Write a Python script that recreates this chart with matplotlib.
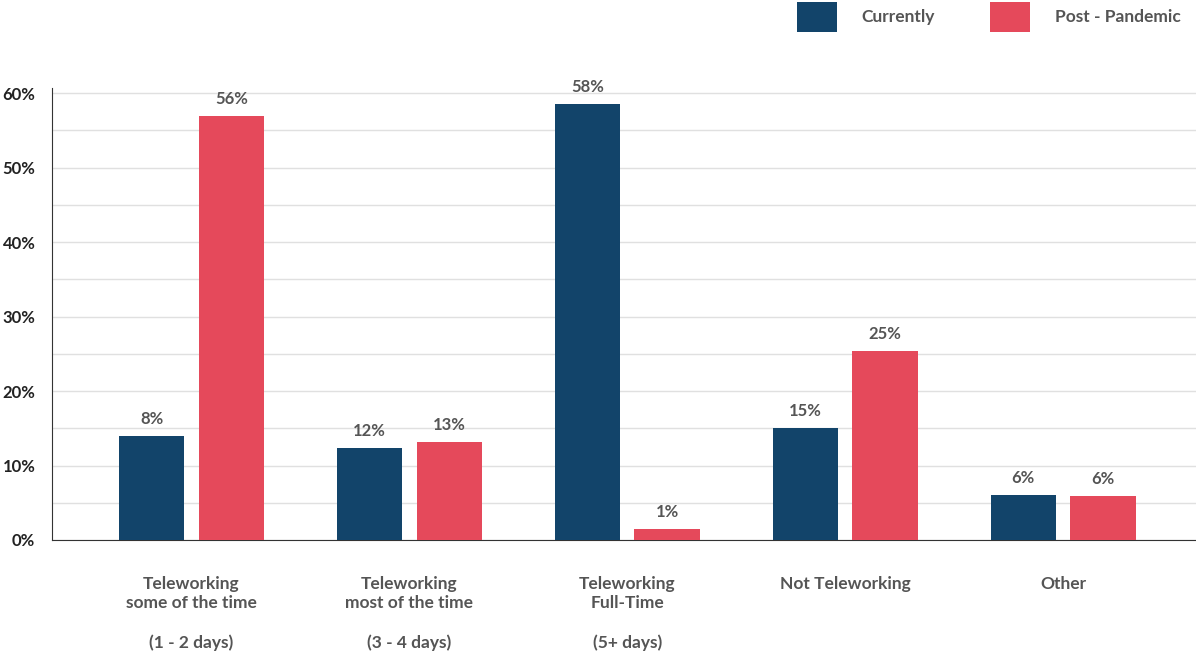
import matplotlib
matplotlib.use("Agg")
import matplotlib.pyplot as plt
import numpy as np

categories = ["Teleworking\nsome of the time\n\n(1 - 2 days)",
              "Teleworking\nmost of the time\n\n(3 - 4 days)",
              "Teleworking\nFull-Time\n\n(5+ days)",
              "Not Teleworking",
              "Other"]
currently = [14.0, 12.3, 58.5, 15.0, 6.0]
post_pandemic = [56.9, 13.2, 1.5, 25.4, 5.9]
currently_labels = ["8%", "12%", "58%", "15%", "6%"]
post_labels = ["56%", "13%", "1%", "25%", "6%"]
tick_vals = [0, 10, 20, 30, 40, 50, 60]

navy = "#12446a"
red = "#e5495b"
txt = "#555555"
plt.rcParams["font.family"] = "Lato"

fig = plt.figure(figsize=(11.96, 6.59), dpi=100)
ax = fig.add_axes([0.0435, 0.1806, 0.9565, 0.686])
x = np.arange(len(categories))
w = 0.3
off = 0.183
b1 = ax.bar(x - off, currently, w, color=navy, label="Currently", zorder=3)
b2 = ax.bar(x + off, post_pandemic, w, color=red, label="Post - Pandemic", zorder=3)
for bars, labs in ((b1, currently_labels), (b2, post_labels)):
    for b, l in zip(bars, labs):
        ax.text(b.get_x() + b.get_width() / 2, b.get_height() + 1.2, l,
                ha="center", va="bottom", fontsize=12, fontweight="bold", color=txt)

ax.set_xlim(-0.64, 4.61)
ax.set_ylim(0, 60.7)
ax.set_yticks(tick_vals)
ax.set_yticklabels([f"{v}%" for v in tick_vals], fontsize=12, fontweight="bold", color="#222222")
ax.set_yticks(np.arange(0, 61, 5), minor=True)
ax.yaxis.grid(True, which="both", color="#e0e0e0", lw=1, zorder=0)
ax.tick_params(axis="y", which="both", length=0, pad=12)
ax.set_xticks(x)
ax.set_xticklabels(categories, fontsize=12.5, fontweight="bold", color=txt, linespacing=1.25)
ax.tick_params(axis="x", length=0, pad=26)
for s in ("top", "right"):
    ax.spines[s].set_visible(False)
ax.spines["left"].set_color("#333333")
ax.spines["bottom"].set_color("#333333")

fig.legend(handles=[b1, b2], loc="upper right", bbox_to_anchor=(1.0, 1.02), ncol=2,
           frameon=False, handlelength=2.3, handleheight=2.2, columnspacing=3.2,
           handletextpad=1.4, prop={"family": "Lato", "weight": "bold", "size": 12.5},
           labelcolor=txt)

fig.savefig("out.png", dpi=100)
